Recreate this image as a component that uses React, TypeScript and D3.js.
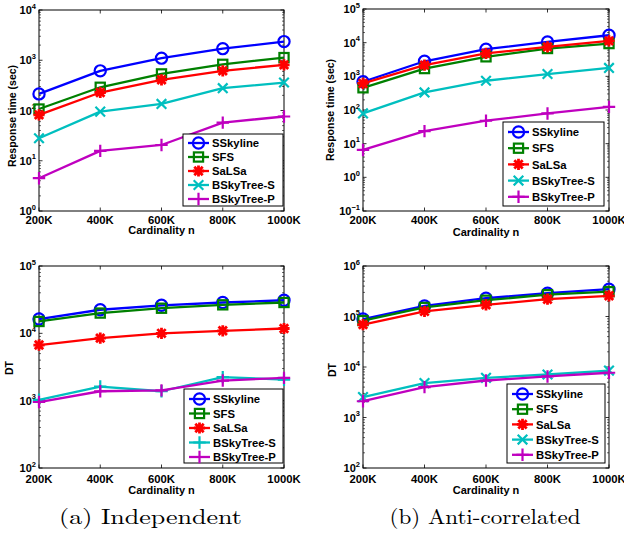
import React from 'react';
import * as d3 from 'd3';

const cardinalities = [200000, 400000, 600000, 800000, 1000000];
const xTickLabels = ['200K', '400K', '600K', '800K', '1000K'];
const seriesNames = ['SSkyline', 'SFS', 'SaLSa', 'BSkyTree-S', 'BSkyTree-P'];

// Response time (sec), independent
const timeIndependent = [
  [214, 615, 1100, 1700, 2350],
  [107, 290, 535, 830, 1130],
  [82, 228, 408, 616, 810],
  [28, 95, 135, 278, 360],
  [4.5, 15.7, 20.6, 57.5, 76],
];
// Response time (sec), anti-correlated
const timeAnti = [
  [690, 2800, 6400, 10500, 16600],
  [457, 1700, 3800, 6700, 9400],
  [615, 2150, 4800, 7500, 11300],
  [79, 333, 740, 1170, 1780],
  [6.5, 23.6, 48, 79, 124],
];
// DT, independent
const dtIndependent = [
  [16300, 22400, 26100, 28700, 31000],
  [15000, 20000, 23600, 26500, 28700],
  [6700, 8500, 10000, 10900, 11800],
  [1030, 1620, 1380, 2240, 2050],
  [955, 1380, 1420, 1990, 2180],
];
// DT, anti-correlated
const dtAnti = [
  [89000, 162000, 230000, 290000, 347000],
  [83000, 151000, 210000, 270000, 310000],
  [69000, 126000, 170000, 220000, 257000],
  [2530, 4800, 6100, 7100, 8500],
  [2100, 4000, 5400, 6500, 7700],
];

const colors = ['#0000FF', '#008000', '#FF0000', '#00BFBF', '#BF00BF'];
const markers = ['circle', 'square', 'star', 'x', 'plus'];

type Panel = {
  data: number[][];
  left: number; right: number; top: number; bottom: number;
  yMinExp: number; yMaxExp: number;
  yLabel: string; yLabelX: number; yLabelY: number;
  tickY: number; xLabelY: number;
  legend: { x: number; y: number; w: number; h: number; firstRow: number; rowStep: number };
  cyanMarker: string;
};

const panels: Panel[] = [
  {
    data: timeIndependent, left: 39, right: 284, top: 10, bottom: 211,
    yMinExp: 0, yMaxExp: 4, yLabel: 'Response time (sec)', yLabelX: 12, yLabelY: 116,
    tickY: 219.5, xLabelY: 230,
    legend: { x: 183, y: 134, w: 100, h: 72, firstRow: 143, rowStep: 14 },
    cyanMarker: 'x',
  },
  {
    data: timeAnti, left: 363, right: 609, top: 9, bottom: 211,
    yMinExp: -1, yMaxExp: 5, yLabel: 'Response time (sec)', yLabelX: 330, yLabelY: 110,
    tickY: 219.5, xLabelY: 231.5,
    legend: { x: 503, y: 122, w: 101, h: 84, firstRow: 132, rowStep: 16.2 },
    cyanMarker: 'x',
  },
  {
    data: dtIndependent, left: 39, right: 284, top: 266, bottom: 468,
    yMinExp: 2, yMaxExp: 5, yLabel: 'DT', yLabelX: 9, yLabelY: 368,
    tickY: 478.5, xLabelY: 489.5,
    legend: { x: 184, y: 389, w: 99, h: 74, firstRow: 399, rowStep: 14.5 },
    cyanMarker: 'plus',
  },
  {
    data: dtAnti, left: 363, right: 609, top: 266, bottom: 468,
    yMinExp: 2, yMaxExp: 6, yLabel: 'DT', yLabelX: 332, yLabelY: 370,
    tickY: 478.5, xLabelY: 489.5,
    legend: { x: 507, y: 384, w: 98, h: 79, firstRow: 394, rowStep: 15.2 },
    cyanMarker: 'x',
  },
];

const captions = [
  { text: '(a) Independent', cx: 150.5, width: 183 },
  { text: '(b) Anti-correlated', cx: 485, width: 191 },
];

const FONT = '"Liberation Sans", Arial, Helvetica, sans-serif';

function Marker({ type, x, y, color }: { type: string; x: number; y: number; color: string }) {
  const sw = 2.2;
  if (type === 'circle') return <circle cx={x} cy={y} r={5.6} fill="none" stroke={color} strokeWidth={sw} />;
  if (type === 'square') return <rect x={x - 4.6} y={y - 4.6} width={9.2} height={9.2} fill="none" stroke={color} strokeWidth={sw} />;
  if (type === 'x') {
    const s = 4.8;
    return <path d={`M${x - s},${y - s}L${x + s},${y + s}M${x - s},${y + s}L${x + s},${y - s}`} stroke={color} strokeWidth={sw} />;
  }
  if (type === 'plus') {
    const s = 6.2;
    return <path d={`M${x - s},${y}L${x + s},${y}M${x},${y - s}L${x},${y + s}`} stroke={color} strokeWidth={sw} />;
  }
  // star (asterisk)
  const s = 5.6, d = 4.2;
  return (
    <path
      d={`M${x - s},${y}L${x + s},${y}M${x},${y - s}L${x},${y + s}M${x - d},${y - d}L${x + d},${y + d}M${x - d},${y + d}L${x + d},${y - d}`}
      stroke={color} strokeWidth={2.8}
    />
  );
}

function PanelView({ p }: { p: Panel }) {
  const x = d3.scaleLinear().domain([200000, 1000000]).range([p.left, p.right]);
  const y = d3.scaleLog().domain([10 ** p.yMinExp, 10 ** p.yMaxExp]).range([p.bottom, p.top]);
  const line = d3.line<number>().x((_, i) => x(cardinalities[i])).y((v) => y(v));
  const majors = d3.range(p.yMinExp, p.yMaxExp + 1);
  const minors: number[] = [];
  for (let e = p.yMinExp; e < p.yMaxExp; e++) for (let k = 2; k <= 9; k++) minors.push(k * 10 ** e);
  const mk = (i: number) => (i === 3 ? p.cyanMarker : markers[i]);
  const L = p.legend;
  return (
    <g>
      <rect x={p.left} y={p.top} width={p.right - p.left} height={p.bottom - p.top} fill="white" stroke="black" strokeWidth={1} />
      {majors.map((e) => {
        const yy = y(10 ** e);
        return (
          <g key={'M' + e}>
            <line x1={p.left} x2={p.left + 3.5} y1={yy} y2={yy} stroke="black" strokeWidth={0.8} />
            <line x1={p.right} x2={p.right - 3.5} y1={yy} y2={yy} stroke="black" strokeWidth={0.8} />
            <text x={p.left - 3} y={yy + 4} textAnchor="end" fontFamily={FONT} fontWeight="bold" fontSize={11}>
              10<tspan dy={-5.5} fontSize={7.5}>{e < 0 ? '\u2212' + -e : e}</tspan>
            </text>
          </g>
        );
      })}
      {minors.map((v, i) => (
        <g key={'m' + i}>
          <line x1={p.left} x2={p.left + 2} y1={y(v)} y2={y(v)} stroke="black" strokeWidth={0.6} />
          <line x1={p.right} x2={p.right - 2} y1={y(v)} y2={y(v)} stroke="black" strokeWidth={0.6} />
        </g>
      ))}
      {cardinalities.map((c, i) => (
        <g key={'x' + i}>
          <line x1={x(c)} x2={x(c)} y1={p.bottom} y2={p.bottom - 3.5} stroke="black" strokeWidth={0.8} />
          <line x1={x(c)} x2={x(c)} y1={p.top} y2={p.top + 3.5} stroke="black" strokeWidth={0.8} />
          <text x={x(c)} y={p.tickY + 4} textAnchor="middle" fontFamily={FONT} fontWeight="bold" fontSize={11.3}>
            {xTickLabels[i]}
          </text>
        </g>
      ))}
      <text x={(p.left + p.right) / 2} y={p.xLabelY + 4} textAnchor="middle" fontFamily={FONT} fontWeight="bold" fontSize={11}>
        Cardinality n
      </text>
      <text
        transform={`translate(${p.yLabelX + 3.8},${p.yLabelY}) rotate(-90)`}
        textAnchor="middle" fontFamily={FONT} fontWeight="bold" fontSize={10.5}
      >
        {p.yLabel}
      </text>
      {p.data.map((vals, i) => (
        <g key={'s' + i}>
          <path d={line(vals) || ''} fill="none" stroke={colors[i]} strokeWidth={2.3} strokeLinejoin="round" />
          {vals.map((v, j) => (
            <Marker key={j} type={mk(i)} x={x(cardinalities[j])} y={y(v)} color={colors[i]} />
          ))}
        </g>
      ))}
      <rect x={L.x} y={L.y} width={L.w} height={L.h} fill="white" stroke="black" strokeWidth={1} />
      {seriesNames.map((n, i) => {
        const ry = L.firstRow + i * L.rowStep;
        return (
          <g key={'l' + i}>
            <line x1={L.x + 5} x2={L.x + 26} y1={ry} y2={ry} stroke={colors[i]} strokeWidth={2.3} />
            <Marker type={mk(i)} x={L.x + 15.5} y={ry} color={colors[i]} />
            <text x={L.x + 29} y={ry + 4.2} fontFamily={FONT} fontWeight="bold" fontSize={11.3}>{n}</text>
          </g>
        );
      })}
    </g>
  );
}

export default function App() {
  return (
    <svg width={624} height={538} style={{ position: 'absolute', left: 0, top: 0, background: 'white' }}>
      <rect width={624} height={538} fill="white" />
      {panels.map((p, i) => (
        <PanelView key={i} p={p} />
      ))}
      {captions.map((c, i) => (
        <text key={i} x={c.cx - c.width / 2} y={524} fontFamily='"Latin Modern Roman", "Liberation Serif", "DejaVu Serif", serif'
          fontSize={21} textLength={c.width} lengthAdjust="spacingAndGlyphs">
          {c.text}
        </text>
      ))}
    </svg>
  );
}
